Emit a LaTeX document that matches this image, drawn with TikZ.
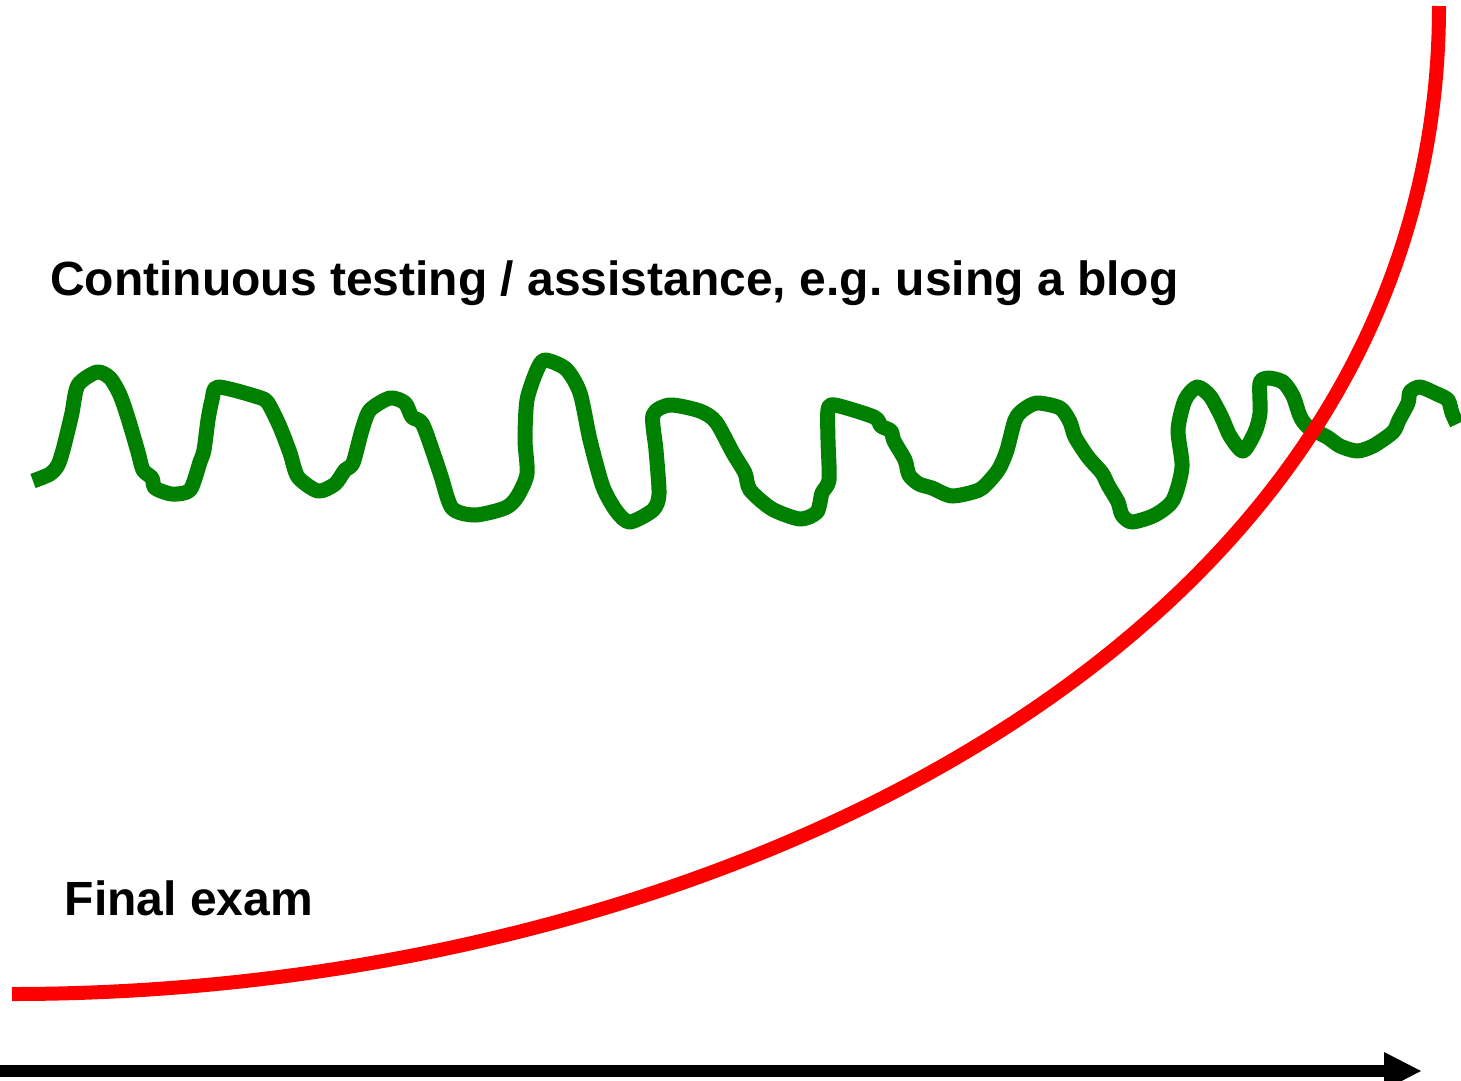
\documentclass[tikz,border=0pt]{standalone}
\usepackage{fontspec}
\setmainfont{Liberation Sans}
\frenchspacing
\begin{document}
\begin{tikzpicture}[x=1pt,y=-1pt,
  label text/.style={inner sep=0pt,anchor=base west,font=\fontsize{48}{56}\selectfont\bfseries},
  wavy/.style={draw={rgb,255:red,0;green,128;blue,0},line width=15pt,line join=round,line cap=butt},
  examcurve/.style={draw={rgb,255:red,255;green,0;blue,0},line width=14pt,line cap=butt},
  timeaxis/.style={draw=black,line width=12pt,line cap=butt}]
\useasboundingbox (0,0) rectangle (1461,1080);

% labels
\node[label text] (cont) at (50,295) {Continuous testing / assistance, e.g. using a blog};
\node[label text] (final) at (64.5,915) {Final exam};

% continuous assessment: a wiggly line
\draw[wavy] plot[smooth,tension=0.45] coordinates {
 (33,481) (50,474) (58,465) (63,450) (68,430) (72,413) (78,385) (97,372)
 (110,378) (120,395) (128,418) (138,452) (143,470) (152,478) (155,488)
 (172,494) (190,490) (200,462) (204,450) (208,420) (212,400) (218,387)
 (258,397) (268,403) (280,427) (290,453) (298,477) (318,491) (335,484)
 (345,470) (353,463) (362,430) (370,410) (390,398) (405,403) (412,417)
 (423,425) (440,473) (452,508) (475,515) (505,508) (517,497) (527,474)
 (525,440) (527,400) (537,370) (545,360) (566,369) (580,393) (590,440)
 (603,487) (617,512) (630,522) (653,510) (659,494) (656,450) (653,415)
 (670,405) (700,411) (716,422) (733,453) (745,473) (750,490) (772,509)
 (800,519) (817,512) (822,493) (829,480) (828,440) (828,410) (835,405)
 (874,417) (881,426) (891,431) (894,441) (905,460) (909,475) (919,484)
 (932,488) (952,496) (979,490) (992,478) (1000,467) (1007,450) (1015,420)
 (1023,410) (1037,403) (1060,408) (1070,422) (1075,437) (1088,457)
 (1102,473) (1108,485) (1118,502) (1122,515) (1132,522) (1155,515)
 (1173,500) (1182,467) (1178,430) (1185,400) (1197,387) (1210,396)
 (1222,418) (1230,436) (1243,451) (1255,432) (1260,413) (1260,383)
 (1268,378) (1283,382) (1293,396) (1300,416) (1308,427) (1327,437)
 (1340,446) (1357,451) (1373,446) (1393,432) (1399,420) (1408,403)
 (1410,392) (1420,387) (1437,394) (1448,400) (1452,413) (1457,424)};

% final exam: steeply rising curve
\coordinate (examstart) at (12,994);
\coordinate (examend) at (1439,6);
\draw[examcurve] (examstart) .. controls (700,994) and (1439,650) .. (examend);

% time axis
\coordinate (axstart) at (0,1071);
\coordinate (axend) at (1384,1071);
\coordinate (tip) at (1421,1071);
\draw[timeaxis] (axstart) -- (axend);
\fill[black] (tip) -- ([yshift=-19pt]axend) -- ([yshift=19pt]axend) -- cycle;
\end{tikzpicture}
\end{document}
